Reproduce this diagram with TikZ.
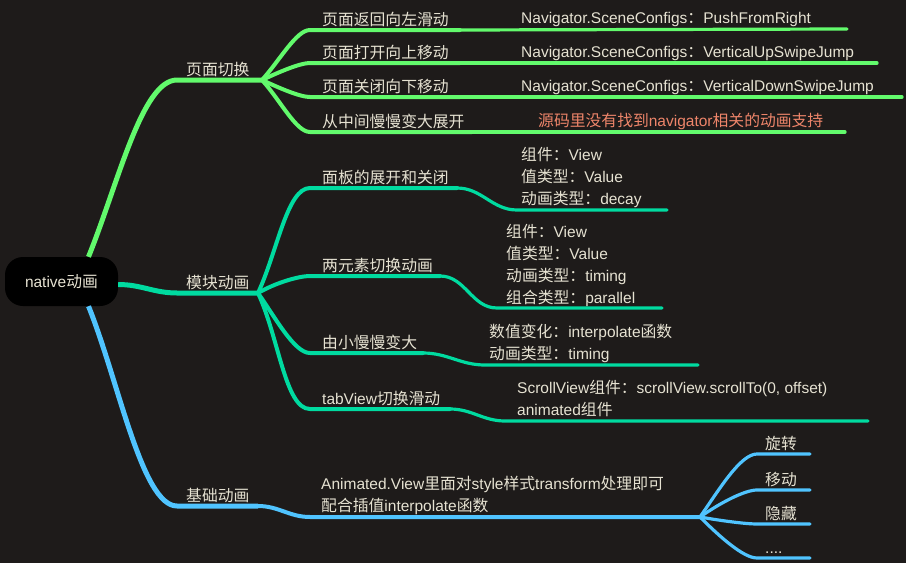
\documentclass[tikz,border=0pt]{standalone}
\usepackage{fontspec}
\setmainfont{Liberation Sans}
\newfontfamily\zhfont{Noto Sans CJK SC}[Scale=1.02]
\newcommand{\zh}[1]{{\zhfont #1}}
\usepackage{tikz}
\usetikzlibrary{positioning}

\definecolor{bgdark}{HTML}{1E1B1A}
\definecolor{textcol}{HTML}{E6E2D2}
\definecolor{notecol}{HTML}{EE856A}
\definecolor{mgreen}{HTML}{62FA6C}
\definecolor{mteal}{HTML}{00DBA0}
\definecolor{mblue}{HTML}{50C4FF}

\begin{document}
\begin{tikzpicture}
	[
		x=1pt, y=-1pt,
		txt/.style={anchor=base west, inner sep=0pt, text=textcol, align=left, font=\fontsize{15.5}{22}\selectfont},
		rootbox/.style={fill=black, rounded corners=18pt, minimum width=113pt, minimum height=49pt, inner sep=0pt, text=textcol, font=\fontsize{15.5}{18}\selectfont},
		lvA/.style={line width=5pt, line cap=butt},
		lvB/.style={line width=4pt, line cap=round},
		lvC/.style={line width=3.2pt, line cap=round},
		fan/.style={in=180, in looseness=0.5}
	]

	% canvas
	\useasboundingbox (0,0) rectangle (906,563);
	\fill[bgdark] (0,0) rectangle (906,563);

	% root
	\node[rootbox] (root) at (61.5,281.5) {native\zh{动画}};

	% main topics
	\coordinate (ymqh-l) at (177,80);  \coordinate (ymqh-r) at (262,80);
	\coordinate (mkdh-l) at (177,293); \coordinate (mkdh-r) at (258,293);
	\coordinate (jcdh-l) at (177,506); \coordinate (jcdh-r) at (258,506);
	\node[txt] (ymqh) at (186,75)  {\zh{页面切换}};
	\node[txt] (mkdh) at (186,288) {\zh{模块动画}};
	\node[txt] (jcdh) at (186,501) {\zh{基础动画}};

	% page switch subtopics
	\coordinate (fh-l) at (310,30);  \coordinate (fh-r) at (460,30);
	\coordinate (dk-l) at (310,63);  \coordinate (dk-r) at (460,63);
	\coordinate (gb-l) at (310,97);  \coordinate (gb-r) at (460,97);
	\coordinate (zk-l) at (310,132); \coordinate (zk-r) at (472,132);
	\node[txt] (fh) at (322,25)  {\zh{页面返回向左滑动}};
	\node[txt] (dk) at (322,58)  {\zh{页面打开向上移动}};
	\node[txt] (gb) at (322,92)  {\zh{页面关闭向下移动}};
	\node[txt] (zk) at (322,127) {\zh{从中间慢慢变大展开}};

	\coordinate (fh3-r) at (847,29);
	\coordinate (dk3-r) at (877,63);
	\coordinate (gb3-r) at (902,97);
	\coordinate (zk3-r) at (845,132);
	\node[txt] (fh3) at (521,23)  {Navigator.SceneConfigs\zh{：}PushFromRight};
	\node[txt] (dk3) at (521,57)  {Navigator.SceneConfigs\zh{：}VerticalUpSwipeJump};
	\node[txt] (gb3) at (521,91)  {Navigator.SceneConfigs\zh{：}VerticalDownSwipeJump};
	\node[txt, text=notecol] (zk3) at (538,126) {\zh{源码里没有找到}navigator\zh{相关的动画支持}};

	% module subtopics
	\coordinate (mb-l) at (310,188); \coordinate (mb-r) at (457,188);
	\coordinate (ly-l) at (310,276); \coordinate (ly-r) at (440,276);
	\coordinate (xd-l) at (310,353); \coordinate (xd-r) at (423,353);
	\coordinate (tv-l) at (310,409); \coordinate (tv-r) at (450,409);
	\node[txt] (mb) at (322,183) {\zh{面板的展开和关闭}};
	\node[txt] (ly) at (322,271) {\zh{两元素切换动画}};
	\node[txt] (xd) at (322,348) {\zh{由小慢慢变大}};
	\node[txt] (tv) at (322,404) {tabView\zh{切换滑动}};

	\coordinate (mb3-l) at (517,210); \coordinate (mb3-r) at (667,210);
	\coordinate (ly3-l) at (497,308); \coordinate (ly3-r) at (662,308);
	\coordinate (xd3-l) at (485,365); \coordinate (xd3-r) at (698,365);
	\coordinate (tv3-l) at (505,421); \coordinate (tv3-r) at (868,421);
	\node[txt] (mb3) at (521,204) {\zh{组件：}View\\\zh{值类型：}Value\\\zh{动画类型：}decay};
	\node[txt] (ly3) at (506,303) {\zh{组件：}View\\\zh{值类型：}Value\\\zh{动画类型：}timing\\\zh{组合类型：}parallel};
	\node[txt] (xd3) at (489,359) {\zh{数值变化：}interpolate\zh{函数}\\\zh{动画类型：}timing};
	\node[txt] (tv3) at (517,415) {ScrollView\zh{组件：}scrollView.scrollTo(0, offset)\\animated\zh{组件}};

	% basic subtopics
	\coordinate (ani-l) at (310,517); \coordinate (ani-r) at (700,517);
	\node[txt] (ani) at (321,511) {Animated.View\zh{里面对}style\zh{样式}transform\zh{处理即可}\\\zh{配合插值}interpolate\zh{函数}};

	\coordinate (xz-l) at (757,454); \coordinate (xz-r) at (810,454);
	\coordinate (yd-l) at (757,490); \coordinate (yd-r) at (810,490);
	\coordinate (yc-l) at (757,524); \coordinate (yc-r) at (810,524);
	\coordinate (dd-l) at (757,558); \coordinate (dd-r) at (810,558);
	\node[txt] (xz) at (765,449) {\zh{旋转}};
	\node[txt] (yd) at (765,485) {\zh{移动}};
	\node[txt] (yc) at (765,519) {\zh{隐藏}};
	\node[txt] (dd) at (765,553) {....};

	% branches from root
	\draw[lvA, mgreen] ([xshift=27pt]root.north) to[out=68, in=180, out distance=80pt, in distance=35pt] (ymqh-l) -- (ymqh-r);
	\draw[lvA, mteal] ([yshift=-3pt]root.east) to[out=0, in=180] (mkdh-l) -- (mkdh-r);
	\draw[lvA, mblue] ([xshift=27pt]root.south) to[out=-68, in=180, out distance=80pt, in distance=35pt] (jcdh-l) -- (jcdh-r);

	% second level
	\foreach \to/\a in {fh/48,dk/25,gb/-25,zk/-48}
	\draw[lvB, mgreen] (ymqh-r) to[fan, out=\a] (\to-l) -- (\to-r);
	\foreach \to/\a in {mb/65,ly/30,xd/-55,tv/-65}
	\draw[lvB, mteal] (mkdh-r) to[fan, out=\a] (\to-l) -- (\to-r);
	\draw[lvB, mblue] (jcdh-r) to[out=0, in=180] (ani-l) -- (ani-r);

	% third level
	\foreach \from in {fh,dk,gb,zk}
	\draw[lvC, mgreen] (\from-r) -- (\from3-r);
	\foreach \from in {mb,ly,xd,tv}
	\draw[lvC, mteal] (\from-r) to[out=0, in=180] (\from3-l) -- (\from3-r);
	\foreach \to/\a in {xz/55,yd/35,yc/-10,dd/-45}
	\draw[lvC, mblue] (ani-r) to[fan, out=\a] (\to-l) -- (\to-r);

\end{tikzpicture}
\end{document}
